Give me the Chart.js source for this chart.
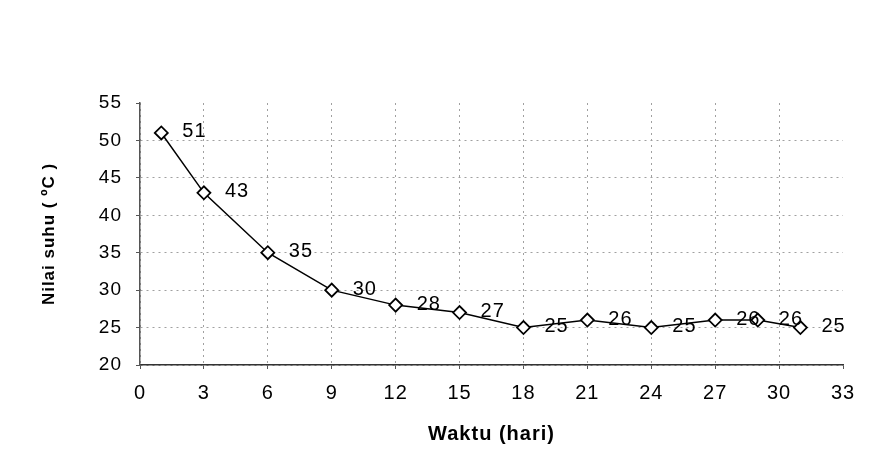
<!DOCTYPE html>
<html>
<head>
<meta charset="utf-8">
<script src="https://cdn.jsdelivr.net/npm/chart.js@4"></script>
<style>
  html, body { margin: 0; padding: 0; background: #fff; }
  #wrap { width: 872px; height: 473px; }
</style>
</head>
<body>
<div id="wrap"><canvas id="grafikSuhu" width="872" height="473"></canvas></div>
<script>
// data suhu kompos
const hari = [1, 3, 6, 9, 12, 15, 18, 21, 24, 27, 29, 31];
const suhu = [51, 43, 35, 30, 28, 27, 25, 26, 25, 26, 26, 25];

const tickWaktu = [0, 3, 6, 9, 12, 15, 18, 21, 24, 27, 30, 33];
const tickSuhu = [20, 25, 30, 35, 40, 45, 50, 55];

const judulX = 'Waktu (hari)';
const judulY = 'Nilai suhu ( ºC )';

const huruf = "'Liberation Sans', Arial, sans-serif";

const titik = hari.map((h, i) => ({ x: h, y: suhu[i] }));

// spasi huruf biar mirip gambar asli (teks agak lebar)
const spasiHuruf = {
    id: 'spasiHuruf',
    beforeDraw(chart) {
        chart.ctx.letterSpacing = '1px';
    }
};

// label nilai di kanan tiap titik
const labelNilai = {
    id: 'labelNilai',
    afterDatasetsDraw(chart) {
        const ctx = chart.ctx;
        const meta = chart.getDatasetMeta(0);
        ctx.save();
        ctx.font = '20px ' + huruf;
        ctx.fillStyle = '#000';
        ctx.textAlign = 'left';
        ctx.textBaseline = 'middle';
        meta.data.forEach((p, i) => {
            ctx.fillText(String(suhu[i]), p.x + 21, p.y - 1);
        });
        ctx.restore();
    }
};

// garis grid putus-putus, tanpa garis di tepi atas/kanan
function warnaGrid(batas) {
    return c => (c.tick && c.tick.value === batas) ? 'rgba(0,0,0,0)' : '#a0a0a0';
}

new Chart(document.getElementById('grafikSuhu'), {
    type: 'line',
    data: {
        datasets: [{
            data: titik,
            borderColor: '#000',
            borderWidth: 1.5,
            tension: 0,
            pointStyle: 'rectRot',
            pointRadius: 6.5,
            pointBackgroundColor: '#fff',
            pointBorderColor: '#000',
            pointBorderWidth: 1.8
        }]
    },
    options: {
        responsive: false,
        animation: false,
        layout: { padding: { top: 103, right: 29, left: 0, bottom: 0 } },
        plugins: {
            legend: { display: false },
            tooltip: { enabled: false }
        },
        scales: {
            x: {
                type: 'linear',
                min: 0,
                max: 33,
                afterBuildTicks: s => { s.ticks = tickWaktu.map(v => ({ value: v })); },
                afterFit: s => { s.height = 108; },
                grid: {
                    color: warnaGrid(33),
                    lineWidth: 1,
                    tickLength: 4,
                    tickColor: '#555'
                },
                // di v4 dash ini untuk garis grid
                border: { color: '#333', width: 1.5, dash: [2, 4] },
                ticks: {
                    color: '#000',
                    padding: 12,
                    maxRotation: 0,
                    font: { family: huruf, size: 20 }
                },
                title: {
                    display: true,
                    text: judulX,
                    color: '#000',
                    font: { family: huruf, size: 20, weight: 'bold' },
                    padding: { top: 0, bottom: 27 }
                }
            },
            y: {
                min: 20,
                max: 55,
                afterBuildTicks: s => { s.ticks = tickSuhu.map(v => ({ value: v })); },
                afterFit: s => { s.width = 140; },
                grid: {
                    color: warnaGrid(55),
                    lineWidth: 1,
                    tickLength: 4,
                    tickColor: '#555'
                },
                border: { color: '#555', width: 1.5, dash: [2, 4] },
                ticks: {
                    color: '#000',
                    padding: 14,
                    font: { family: huruf, size: 19 }
                },
                title: {
                    display: true,
                    text: judulY,
                    color: '#000',
                    font: { family: huruf, size: 17, weight: 'bold' },
                    padding: { top: 39, bottom: 0 }
                }
            }
        }
    },
    plugins: [spasiHuruf, labelNilai]
});
</script>
</body>
</html>
